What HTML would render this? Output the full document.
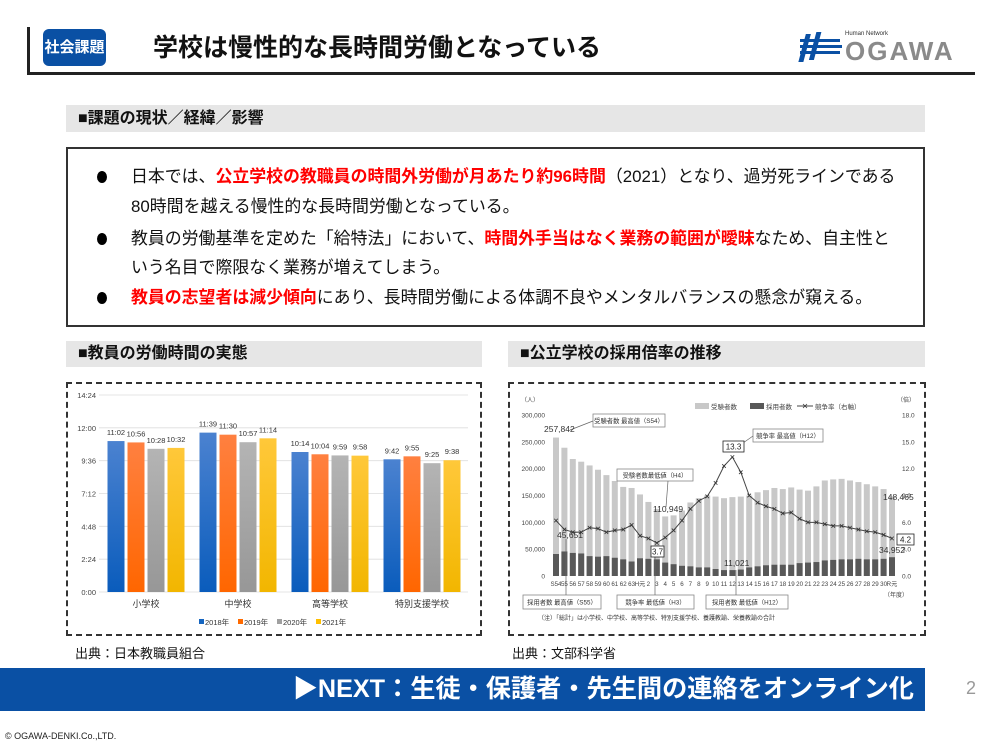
<!DOCTYPE html>
<html><head><meta charset="utf-8">
<style>
*{margin:0;padding:0;box-sizing:border-box}
body{width:1000px;height:750px;background:#fff;position:relative;overflow:hidden;font-family:"Liberation Sans","Noto Sans CJK JP",sans-serif;color:#111}
.a{position:absolute;white-space:nowrap}
.sec{position:absolute;background:#e6e6e6;font-weight:bold;font-size:16px;line-height:27px;padding-left:12px}
.r{color:#ff0000;font-weight:bold}
.bl{position:absolute;left:97px;width:10px;height:12px;border-radius:50%;background:#000}
.ln{position:absolute;left:131px;font-size:16.9px;white-space:nowrap;line-height:20px}
</style></head><body>
<div class="a" style="left:27px;top:27px;width:3px;height:48px;background:#222"></div>
<div class="a" style="left:27px;top:72px;width:948px;height:3px;background:#222"></div>
<div class="a" style="left:43px;top:29px;width:63px;height:37px;background:#0a50a4;border-radius:6px;color:#fff;font-weight:bold;font-size:15px;line-height:37px;text-align:center">社会課題</div>
<div class="a" style="left:153px;top:33px;font-size:25px;font-weight:bold;line-height:30px">学校は慢性的な長時間労働となっている</div>
<svg class="a" style="left:798px;top:26px" width="180" height="40">
<g fill="#0a50a4"><rect x="10" y="8" width="5" height="28" transform="skewX(-15)"/><rect x="20" y="6" width="5" height="28" transform="skewX(-15)"/><rect x="2" y="13" width="40" height="3"/><rect x="2" y="19" width="42" height="3"/><rect x="2" y="25" width="40" height="3"/></g>
<text x="47" y="9" font-size="6" font-family="Liberation Sans" fill="#333">Human Network</text>
<text x="47" y="34" font-size="26" font-weight="bold" font-family="Liberation Sans" fill="#8a8a8a" letter-spacing="2">OGAWA</text>
</svg>
<div class="sec" style="left:66px;top:105px;width:859px">■課題の現状／経緯／影響</div>
<div class="a" style="left:66px;top:147px;width:859px;height:180px;border:2px solid #333"></div>
<div class="bl" style="top:171px"></div><div class="bl" style="top:233px"></div><div class="bl" style="top:292px"></div>
<div class="ln" style="top:167px">日本では、<span class="r">公立学校の教職員の時間外労働が月あたり約96時間</span>（2021）となり、過労死ラインである</div>
<div class="ln" style="top:197px">80時間を越える慢性的な長時間労働となっている。</div>
<div class="ln" style="top:229px">教員の労働基準を定めた「給特法」において、<span class="r">時間外手当はなく業務の範囲が曖昧</span>なため、自主性と</div>
<div class="ln" style="top:258px">いう名目で際限なく業務が増えてしまう。</div>
<div class="ln" style="top:288px"><span class="r">教員の志望者は減少傾向</span>にあり、長時間労働による体調不良やメンタルバランスの懸念が窺える。</div>
<div class="sec" style="left:66px;top:341px;width:416px;height:26px;line-height:26px">■教員の労働時間の実態</div>
<div class="sec" style="left:508px;top:341px;width:417px;height:26px;line-height:26px">■公立学校の採用倍率の推移</div>
<div class="a" style="left:66px;top:382px;width:416px;height:254px;border:2px dashed #333"></div>
<div class="a" style="left:508px;top:382px;width:418px;height:254px;border:2px dashed #333"></div>
<svg id="sv" class="a" style="left:0;top:0" width="1000" height="750" font-family="Liberation Sans,Noto Sans CJK JP,sans-serif">
<defs>
<linearGradient id="g0" x1="0" y1="0" x2="0" y2="1"><stop offset="0" stop-color="#4b82d0"/><stop offset="1" stop-color="#0a5cbc"/></linearGradient>
<linearGradient id="g1" x1="0" y1="0" x2="0" y2="1"><stop offset="0" stop-color="#ff8040"/><stop offset="1" stop-color="#ff6600"/></linearGradient>
<linearGradient id="g2" x1="0" y1="0" x2="0" y2="1"><stop offset="0" stop-color="#b4b4b4"/><stop offset="1" stop-color="#979797"/></linearGradient>
<linearGradient id="g3" x1="0" y1="0" x2="0" y2="1"><stop offset="0" stop-color="#ffc83a"/><stop offset="1" stop-color="#f2b600"/></linearGradient>
</defs>
</svg>
<div class="a" style="left:75px;top:643px;font-size:13px">出典：日本教職員組合</div>
<div class="a" style="left:512px;top:643px;font-size:13px">出典：文部科学省</div>
<div class="a" style="left:0;top:668px;width:925px;height:43px;background:#0a50a4"></div>
<div class="a" style="right:86px;top:673px;font-size:25.2px;font-weight:bold;color:#fff;line-height:32px">▶NEXT：生徒・保護者・先生間の連絡をオンライン化</div>
<div class="a" style="left:966px;top:678px;font-size:18px;color:#999">2</div>
<div class="a" style="left:5px;top:731px;font-size:9px;color:#222">© OGAWA-DENKI.Co.,LTD.</div>
<script>
var s='';
function T(x,y,t,sz,a,c,w){s+='<text x="'+x+'" y="'+y+'" font-size="'+sz+'" text-anchor="'+(a||'start')+'" fill="'+(c||'#444')+'"'+(w?' font-weight="bold"':'')+'>'+t+'</text>';}
function R(x,y,w,h,f,st){s+='<rect x="'+x+'" y="'+y+'" width="'+w+'" height="'+h+'" fill="'+f+'"'+(st?' stroke="'+st+'" stroke-width="0.8"':'')+'/>';}
function L(x1,y1,x2,y2,c,w){s+='<line x1="'+x1+'" y1="'+y1+'" x2="'+x2+'" y2="'+y2+'" stroke="'+(c||'#666')+'" stroke-width="'+(w||0.7)+'"/>';}
var y0=592,k=197/864,yl=['0:00','2:24','4:48','7:12','9:36','12:00','14:24'];
for(var i=0;i<7;i++){var y=y0-i*144*k;L(99,y,468,y,'#ddd',0.8);T(96,y+3,yl[i],7.5,'end','#444');}
var vals=[[662,656,628,632],[699,690,657,674],[614,604,599,598],[582,595,565,578]];
var labs=[['11:02','10:56','10:28','10:32'],['11:39','11:30','10:57','11:14'],['10:14','10:04','9:59','9:58'],['9:42','9:55','9:25','9:38']];
var cats=['小学校','中学校','高等学校','特別支援学校'];
for(var g=0;g<4;g++){var cx=146+g*92;for(var j=0;j<4;j++){var bx=cx-30+j*20,h=vals[g][j]*k;R(bx-8.5,y0-h,17,h,'url(#g'+j+')');T(bx,y0-h-6,labs[g][j],7.5,'middle','#333');}
T(cx,607,cats[g],9,'middle','#333');}
var lc=['#1565c0','#ff6a00','#a0a0a0','#ffbf00'],ln=['2018年','2019年','2020年','2021年'];
for(var j=0;j<4;j++){var lx=199+j*39;R(lx,619,5,5,lc[j]);T(lx+6,625,ln[j],7.5,'start','#333');}
var A=[258,239,218,213,206,198,188,177,166,164,152,138,125,111,113,122,137,145,150,148,145,147,148,150,156,160,164,162,165,161,159,167,178,180,181,178,175,171,167,162,148.5];
var H=[41,45.7,43,42,37,36,37,34,31,27,33,32,31,25,22,19,18,16,16,13,11,11,12,16,18,20,21,21,21,24,25,26,29,30,31,31,32,31,31,32,35];
var Q=[6.2,5.2,4.9,4.9,5.4,5.3,4.9,5.1,5.2,5.7,4.5,4.2,3.7,4.3,5.1,6.2,7.5,8.4,8.9,10.4,12.3,13.3,11.6,9.0,8.2,7.8,7.5,7.0,7.1,6.4,6.0,6.0,5.8,5.6,5.6,5.4,5.2,5.0,4.9,4.6,4.2];
var Y0=576,ka=161/300,kr=161/18;
var al=['0','50,000','100,000','150,000','200,000','250,000','300,000'],ar=['0.0','3.0','6.0','9.0','12.0','15.0','18.0'];
for(var i=0;i<7;i++){var y=Y0-i*161/6;T(545,y+2.5,al[i],6.5,'end','#444');T(902,y+2.5,ar[i],6.5,'start','#444');}
T(530,402,'（人）',6,'middle');T(906,402,'（倍）',6,'middle');
var pts='';
for(var i=0;i<41;i++){var x=556+8.4*i;var ha=A[i]*ka;R(x-3,Y0-ha,6,ha,'#c8c8c8');var hh=H[i]*ka;R(x-3,Y0-hh,6,hh,'#585858');pts+=x+','+(Y0-Q[i]*kr)+' ';}
s+='<polyline points="'+pts+'" fill="none" stroke="#444" stroke-width="1"/>';
for(var i=0;i<41;i++){var x=556+8.4*i,y=Y0-Q[i]*kr;L(x-1.8,y-1.8,x+1.8,y+1.8,'#333',0.8);L(x-1.8,y+1.8,x+1.8,y-1.8,'#333',0.8);}
var xl=['S54','55','56','57','58','59','60','61','62','63','H元'];for(var i=2;i<=30;i++)xl.push(''+i);xl.push('R元');
for(var i=0;i<41;i++){T(556+8.4*i,586,xl[i],6.2,'middle','#444');}
T(896,597,'（年度）',6,'middle');
R(695,403,14,6,'#c8c8c8');T(711,409,'受験者数',6.5);R(750,403,14,6,'#585858');T(766,409,'採用者数',6.5);
L(797,406,813,406,'#444',1);L(803,404,807,408,'#333');L(803,408,807,404,'#333');T(815,409,'競争率（右軸）',6.5);
function B(x,y,w,h,t){R(x,y,w,h,'#fff','#888');T(x+w/2,y+h/2+2.3,t,6.3,'middle','#333');}
B(593,414,72,13,'受験者数 最高値（S54）');B(753,429,70,13,'競争率 最高値（H12）');B(617,469,76,12,'受験者数最低値（H4）');
B(523,595,78,14,'採用者数 最高値（S55）');B(617,595,77,14,'競争率 最低値（H3）');B(706,595,82,14,'採用者数 最低値（H12）');
L(570,430,593,421);L(668,481,666,507);L(566,539,566,595);L(655,557,655,595);L(736,570,736,595);L(743,443,753,436);
function V(x,y,w,h,t){R(x,y,w,h,'#fff','#222');T(x+w/2,y+h-2.5,t,8,'middle','#222');}
V(723,441,21,11,'13.3');V(651,546,13,11,'3.7');V(897,534,17,11,'4.2');
T(544,432,'257,842',8.5,'start','#333');T(653,512,'110,949',8.5,'start','#333');T(557,538,'45,651',8.5,'start','#333');
T(724,566,'11,021',8.5,'start','#333');T(883,500,'148,465',8.5,'start','#333');T(879,553,'34,952',8.5,'start','#333');
T(538,620,'（注）「総計」は小学校、中学校、高等学校、特別支援学校、養護教諭、栄養教諭の合計',6,'start','#333');
document.getElementById('sv').insertAdjacentHTML('beforeend',s);
</script>
</body></html>
